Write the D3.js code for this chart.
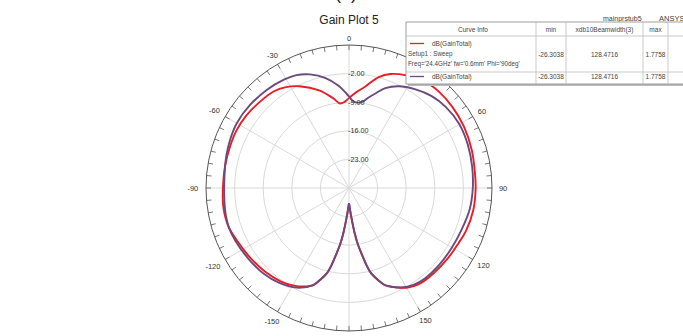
<!DOCTYPE html>
<html>
<head>
<meta charset="utf-8">
<script src="https://cdn.jsdelivr.net/npm/d3@7"></script>
<style>
  body { margin: 0; background: #fff; }
  text { font-family: Arial, "Liberation Sans", sans-serif; }
</style>
</head>
<body>
<script>
// gain pattern, red trace (theta in deg, gain in dB)
var redTheta = [-180, -175.5, -172.8, -171, -169.3, -167.4, -165.4, -162.5, -159.8, -155, -150, -144, -135, -125, -115, -107, -98, -90, -80, -71, -63, -55, -46, -38, -32, -26, -17, -10, -6, -3, 0, 4, 9, 15, 20, 27, 34, 43, 52, 62, 73, 83, 90, 100, 110, 117, 125, 135, 144, 150, 155, 159.8, 162.5, 165.4, 167.4, 169.3, 171, 172.8, 175.5, 180];
var redGain = [-26.3, -22.9, -18.8, -16.0, -13.8, -10.9, -8.4, -6.4, -4.7, -3.4, -2.5, -1.7, -1.0, -0.4, 0.3, 1.0, 1.1, 0.85, 0.8, 0.83, 0.93, 0.76, 0.35, -0.02, -0.88, -2.3, -5.0, -7.7, -9.2, -8.9, -8.0, -6.6, -4.9, -1.9, -0.3, 0.95, 1.9, 2.25, 2.15, 1.9, 1.45, 1.05, 1.0, 0.9, 0.5, 0.0, -0.3, -0.6, -0.9, -1.8, -3.2, -4.7, -6.4, -8.4, -10.9, -13.8, -16.0, -18.8, -22.9, -26.3];

// gain pattern, purple trace
var purpleTheta = [-180, -175.5, -172.8, -171, -169.3, -167.4, -165.4, -162.5, -159.8, -152.3, -144, -135, -125, -115, -108, -100, -90, -80, -75, -68, -60, -50, -40, -31, -25, -19, -12, -6, -3, 0, 3, 6, 9, 12, 16, 20, 26, 34, 42, 50, 60, 70, 80, 90, 100, 110, 120, 130, 140, 146, 152.3, 156, 159.8, 162.5, 165.4, 167.4, 169.3, 171, 172.8, 175.5, 180];
var purpleGain = [-26.3, -22.9, -18.8, -16.0, -13.8, -10.9, -8.4, -6.4, -4.7, -2.45, -1.2, -0.4, 0.1, 0.65, 0.95, 0.8, 0.55, 0.8, 1.06, 1.4, 1.72, 1.62, 1.33, 0.93, 0.47, -0.6, -2.5, -4.8, -6.2, -7.6, -8.8, -9.0, -8.6, -7.4, -5.8, -4.0, -2.3, -0.9, 0.25, 0.9, 1.2, 0.95, 0.6, 0.3, 0.0, -0.6, -0.9, -1.0, -1.1, -1.5, -2.5, -3.5, -4.7, -6.4, -8.4, -10.9, -13.8, -16.0, -18.8, -22.9, -26.3];

// axis ticks
var ringValues = [-23, -16, -9, -2];
var ringLabels = ["-23.00", "-16.00", "-9.00", "-2.00"];
var angleLabels = [-150, -120, -90, -60, -30, 0, 30, 60, 90, 120, 150];

// legend table contents
var tableHeaders = ["Curve Info", "min", "xdb10Beamwidth(3)", "max"];
var traceNames = ["dB(GainTotal)", "dB(GainTotal)"];
var setupLines = ["Setup1 : Sweep", "Freq='24.4GHz' fw='0.6mm' Phi='90deg'"];
var traceMin = ["-26.3038", "-26.3038"];
var traceBeamwidth = ["128.4716", "128.4716"];
var traceMax = ["1.7758", "1.7758"];

var width = 683, height = 336;
var cx = 349, cy = 188, radius = 143;

var svg = d3.select("body").append("svg")
    .attr("width", width)
    .attr("height", height);

// scales
var r = d3.scaleLinear().domain([-30, 5]).range([0, radius]);
var ang = d3.scaleLinear().domain([-180, 180]).range([-Math.PI, Math.PI]);

function px(deg, rr) { return cx + rr * Math.sin(ang(deg)); }
function py(deg, rr) { return cy - rr * Math.cos(ang(deg)); }

// cut off caption + title
svg.append("text")
    .attr("x", cx - 3).attr("y", -1)
    .attr("text-anchor", "middle")
    .attr("font-size", 18)
    .attr("fill", "#222")
    .text("(b)");

svg.append("text")
    .attr("x", cx).attr("y", 24)
    .attr("text-anchor", "middle")
    .attr("font-size", 12)
    .attr("fill", "#222")
    .text("Gain Plot 5");

var g = svg.append("g").attr("transform", "translate(" + cx + "," + cy + ")");

// grid rings
g.selectAll(".ring")
    .data(ringValues)
  .enter().append("circle")
    .attr("r", function(d) { return r(d); })
    .attr("fill", "none")
    .attr("stroke", "#d9d9d9")
    .attr("stroke-width", 1);

// spokes every 30 deg
g.selectAll(".spoke")
    .data(d3.range(-180, 180, 30))
  .enter().append("line")
    .attr("x1", 0).attr("y1", 0)
    .attr("x2", function(d) { return radius * Math.sin(ang(d)); })
    .attr("y2", function(d) { return -radius * Math.cos(ang(d)); })
    .attr("stroke", "#d9d9d9")
    .attr("stroke-width", 1);

// outer circle + tick marks
g.append("circle")
    .attr("r", radius)
    .attr("fill", "none")
    .attr("stroke", "#555")
    .attr("stroke-width", 1);

g.selectAll(".tick")
    .data(d3.range(-180, 180, 5))
  .enter().append("line")
    .attr("x1", function(d) { return radius * Math.sin(ang(d)); })
    .attr("y1", function(d) { return -radius * Math.cos(ang(d)); })
    .attr("x2", function(d) { return (radius - 5) * Math.sin(ang(d)); })
    .attr("y2", function(d) { return -(radius - 5) * Math.cos(ang(d)); })
    .attr("stroke", "#555")
    .attr("stroke-width", 0.8);

// angle labels
svg.selectAll(".alabel")
    .data(angleLabels)
  .enter().append("text")
    .attr("x", function(d) {
      var w = String(d).length * 4.1;
      return px(d, 150 + 0.5 * w * Math.abs(Math.sin(ang(d))));
    })
    .attr("y", function(d) {
      var w = String(d).length * 4.1;
      return py(d, 150 + 0.5 * w * Math.abs(Math.sin(ang(d)))) + 2.5;
    })
    .attr("text-anchor", "middle")
    .attr("font-size", 7.5)
    .attr("fill", "#333")
    .text(function(d) { return d; });

// ring labels
svg.selectAll(".rlabel")
    .data(ringValues)
  .enter().append("text")
    .attr("x", cx - 1)
    .attr("y", function(d) { return cy - r(d) + 2.5; })
    .attr("font-size", 7.2)
    .attr("fill", "#333")
    .text(function(d, i) { return ringLabels[i]; });

// traces
var line = d3.lineRadial()
    .angle(function(d) { return ang(d.t); })
    .radius(function(d) { return r(d.v); })
    .curve(d3.curveCatmullRom.alpha(0.5));

var redData = redTheta.map(function(t, i) { return {t: t, v: redGain[i]}; });
var purpleData = purpleTheta.map(function(t, i) { return {t: t, v: purpleGain[i]}; });

g.append("path")
    .datum(redData)
    .attr("fill", "none")
    .attr("stroke", "#ec1c24")
    .attr("stroke-width", 1.9)
    .attr("d", line);

g.append("path")
    .datum(purpleData)
    .attr("fill", "none")
    .attr("stroke", "#6b4b7d")
    .attr("stroke-width", 1.9)
    .attr("d", line);

// legend table
var lx = 406, ly = 22, lw = 290, lh = 62;
var colX = [lx, 536, 566, 643, 668];
var colCenter = [473, 551, 604.5, 655.5];

svg.append("text")
    .attr("x", 603).attr("y", 21)
    .attr("font-size", 7)
    .attr("fill", "#444")
    .text("mainprstub5");
svg.append("text")
    .attr("x", 659).attr("y", 21)
    .attr("font-size", 7.5)
    .attr("fill", "#444")
    .text("ANSYS");

svg.append("rect")
    .attr("x", lx + 2).attr("y", ly + 2)
    .attr("width", lw).attr("height", lh)
    .attr("fill", "#bbb");
svg.append("rect")
    .attr("x", lx).attr("y", ly)
    .attr("width", lw).attr("height", lh)
    .attr("fill", "#fff")
    .attr("stroke", "#888")
    .attr("stroke-width", 0.8);

[36, 72].forEach(function(yy) {
  svg.append("line")
      .attr("x1", lx).attr("x2", lx + lw)
      .attr("y1", yy).attr("y2", yy)
      .attr("stroke", "#bbb").attr("stroke-width", 0.8);
});
colX.slice(1).forEach(function(xx) {
  svg.append("line")
      .attr("x1", xx).attr("x2", xx)
      .attr("y1", ly).attr("y2", ly + lh)
      .attr("stroke", "#bbb").attr("stroke-width", 0.8);
});

svg.selectAll(".hdr")
    .data(tableHeaders)
  .enter().append("text")
    .attr("x", function(d, i) { return colCenter[i]; })
    .attr("y", 31.5)
    .attr("text-anchor", "middle")
    .attr("font-size", 6.5)
    .attr("fill", "#444")
    .text(function(d) { return d; });

var rowY = [43.5, 76.5];
var rowValY = [56.5, 78.5];
var traceColor = ["#ec1c24", "#6b4b7d"];

traceNames.forEach(function(name, i) {
  svg.append("line")
      .attr("x1", 410).attr("x2", 424)
      .attr("y1", rowY[i]).attr("y2", rowY[i])
      .attr("stroke", traceColor[i]).attr("stroke-width", 1.3);
  svg.append("text")
      .attr("x", 432).attr("y", rowY[i] + 2.2)
      .attr("font-size", 6.5).attr("fill", "#444")
      .text(name);
  [traceMin[i], traceBeamwidth[i], traceMax[i]].forEach(function(v, j) {
    svg.append("text")
        .attr("x", colCenter[j + 1]).attr("y", rowValY[i])
        .attr("text-anchor", "middle")
        .attr("font-size", 6.5).attr("fill", "#444")
        .text(v);
  });
});

setupLines.forEach(function(s, i) {
  svg.append("text")
      .attr("x", 408).attr("y", 56 + i * 9.5)
      .attr("font-size", 6.3).attr("fill", "#444")
      .text(s);
});
</script>
</body>
</html>
